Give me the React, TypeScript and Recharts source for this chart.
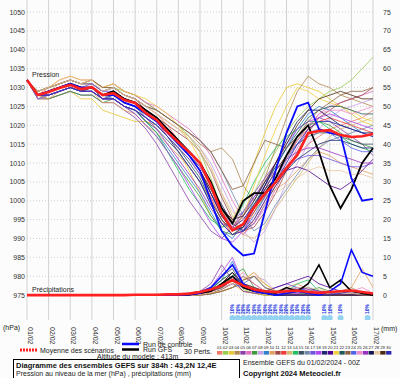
import React from "react";
import { ComposedChart, Line, Scatter, XAxis, YAxis, CartesianGrid } from "recharts";

const HOURS = [0,12,24,36,48,60,72,84,96,108,120,132,144,156,168,180,192,204,216,228,240,252,264,276,288,300,312,324,336,348,360,372,384];
const DAY_TICKS = [0,24,48,72,96,120,144,168,192,216,240,264,288,312,336,360,384];
const DAY_LABELS = ["01/02","02/02","03/02","04/02","05/02","06/02","07/02","08/02","09/02","10/02","11/02","12/02","13/02","14/02","15/02","16/02","17/02"];
const P_TICKS = [975,980,985,990,995,1000,1005,1010,1015,1020,1025,1030,1035,1040,1045,1050];
const MM_TICKS = [0,5,10,15,20,25,30,35,40,45,50,55,60,65,70,75];

const MEAN_P = [1032,1028,1028.8,1029.9,1030.7,1029.6,1030.1,1028,1028.5,1026.7,1025.9,1023.2,1021.4,1018.2,1015.5,1012.9,1010,1004.1,996.7,992.2,993.8,998.3,1001.8,1004.9,1008.7,1012.1,1017.9,1018.5,1018.7,1017.4,1016.9,1017.1,1017.7];
const CTRL_P = [1032,1028,1029,1030,1031,1030,1030,1028,1028,1026,1025,1023,1021,1018,1015,1012,1008,1000,992,988,985.5,986,997,1008,1018,1025,1026,1019,1018,1017.5,1006,1000,1000.5];
const GFS_P = [1032,1028,1029,1030,1031,1030,1030,1028,1029,1027,1026,1024,1022,1019,1016,1013,1010,1005,998,994,1000,1002,1002,1006,1012,1017,1020,1013,1004,998,1003,1010,1014];

const P01 = [1032,1028,1030,1031,1032,1031,1031,1029,1030,1028,1027,1025,1023,1020,1016,1012,1008,1003,997,993,991,995,1000,1004,1008,1012,1015,1017,1019,1020,1021,1022,1024];
const P02 = [1032,1029,1030,1031,1032,1031,1032,1030,1030,1029,1028,1026,1024,1022,1020,1017,1013,1006,998,992,996,1002,1008,1013,1018,1022,1025,1027,1029,1030,1032,1035,1038];
const P03 = [1032,1027,1027,1028,1029,1027,1027,1024,1023,1022,1021,1021,1020,1017,1013,1008,1002,996,993,995,1001,1010,1018,1025,1030,1031,1030,1029,1027,1025,1023,1021,1020];
const P04 = [1032,1029,1030,1031,1032,1031,1032,1030,1031,1029,1028,1026,1024,1022,1020,1018,1015,1013,1014,1011,1004,1000,1006,1014,1022,1029,1033,1031,1030,1028,1027,1026,1025];
const P05 = [1032,1027,1027,1028,1029,1028,1028,1026,1026,1024,1022,1019,1015,1010,1005,1000,996,992,990,993,997,1002,1006,1010,1014,1017,1020,1022,1021,1019,1017,1015,1012];
const P06 = [1032,1029,1030,1032,1033,1032,1032,1030,1031,1029,1028,1026,1025,1023,1021,1019,1016,1012,1006,1000,995,994,998,1003,1009,1014,1019,1023,1025,1026,1027,1028,1029];
const P07 = [1032,1028,1027,1028,1029,1028,1028,1026,1027,1025,1023,1020,1017,1013,1009,1005,1001,996,992,991,993,997,1001,1006,1011,1016,1020,1021,1020,1018,1016,1015,1014];
const P08 = [1032,1029,1030,1031,1032,1031,1031,1029,1030,1028,1027,1025,1023,1021,1019,1017,1014,1010,1004,998,992,989,992,998,1005,1010,1015,1019,1022,1024,1025,1026,1027];
const P09 = [1032,1028,1028,1029,1030,1029,1030,1028,1027,1025,1024,1021,1018,1014,1010,1006,1002,997,992,990,994,1000,1005,1009,1014,1019,1023,1025,1024,1022,1020,1018,1017];
const P10 = [1032,1028,1027,1029,1030,1029,1029,1026,1026,1024,1023,1020,1018,1015,1012,1009,1005,1000,995,992,994,998,1001,1003,1005,1008,1011,1013,1012,1010,1009,1008,1007];
const P11 = [1032,1029,1030,1031,1032,1031,1031,1029,1030,1028,1027,1024,1022,1020,1018,1016,1013,1008,1001,995,992,993,997,1002,1008,1013,1018,1022,1024,1026,1027,1028,1030];
const P12 = [1032,1028,1029,1030,1031,1029,1030,1028,1028,1026,1025,1023,1021,1017,1014,1011,1007,1001,995,991,992,997,1003,1008,1012,1016,1019,1021,1022,1021,1020,1019,1018];
const P13 = [1032,1028,1029,1031,1032,1031,1031,1029,1030,1028,1027,1025,1023,1021,1019,1017,1014,1009,1002,996,991,990,993,998,1002,1006,1010,1014,1017,1019,1020,1021,1022];
const P14 = [1032,1027,1028,1029,1030,1029,1029,1027,1027,1025,1024,1021,1018,1013,1008,1003,999,995,993,994,999,1005,1010,1014,1017,1019,1021,1021,1019,1017,1015,1014,1013];
const P15 = [1032,1028,1028,1029,1030,1029,1029,1027,1027,1025,1024,1021,1019,1016,1013,1009,1005,999,994,991,993,998,1003,1008,1012,1015,1017,1018,1018,1017,1016,1015,1015];
const P16 = [1032,1029,1030,1031,1032,1031,1031,1029,1030,1028,1027,1025,1024,1022,1020,1018,1016,1013,1008,1002,996,992,994,999,1003,1007,1011,1014,1016,1017,1018,1019,1020];
const P17 = [1032,1028,1029,1030,1031,1030,1031,1029,1029,1027,1026,1024,1022,1019,1015,1012,1009,1004,998,995,997,1001,1004,1007,1009,1011,1012,1012,1011,1010,1009,1009,1010];
const P18 = [1032,1027,1028,1029,1030,1029,1029,1027,1027,1025,1023,1020,1017,1013,1009,1004,999,994,990,989,992,998,1004,1010,1015,1019,1021,1022,1023,1022,1021,1020,1019];
const P19 = [1032,1028,1028,1029,1030,1029,1030,1027,1028,1026,1025,1023,1021,1018,1015,1012,1009,1004,999,994,992,994,999,1004,1008,1011,1013,1015,1016,1016,1015,1014,1014];
const P20 = [1032,1028,1029,1030,1031,1030,1030,1028,1029,1027,1026,1024,1022,1019,1016,1012,1008,1002,996,993,995,999,1003,1006,1008,1009,1008,1006,1004,1003,1005,1008,1011];
const P21 = [1032,1029,1030,1032,1033,1032,1032,1030,1031,1029,1028,1027,1025,1023,1020,1016,1011,1004,997,993,996,1004,1012,1019,1025,1030,1029,1027,1026,1025,1024,1022,1021];
const P22 = [1032,1028,1029,1030,1031,1030,1030,1028,1028,1026,1025,1022,1020,1017,1014,1010,1006,1000,995,992,994,999,1004,1009,1014,1018,1022,1024,1025,1025,1024,1023,1023];
const P23 = [1032,1029,1030,1031,1032,1031,1032,1030,1030,1028,1027,1025,1024,1022,1020,1018,1016,1013,1008,1003,1004,1010,1016,1015,1014,1017,1021,1024,1026,1028,1029,1029,1030];
const P24 = [1032,1028,1028,1029,1030,1029,1029,1027,1027,1025,1024,1022,1020,1017,1014,1011,1007,1002,997,993,992,996,1001,1006,1011,1015,1018,1019,1018,1016,1014,1013,1013];
const P25 = [1032,1028,1029,1030,1031,1030,1030,1028,1029,1027,1026,1024,1022,1019,1016,1013,1009,1004,998,993,991,994,999,1005,1011,1016,1020,1023,1024,1024,1023,1024,1025];
const P26 = [1032,1028,1028,1029,1030,1029,1029,1027,1027,1025,1024,1022,1019,1015,1011,1007,1003,998,994,993,996,1001,1005,1008,1011,1013,1014,1014,1013,1012,1011,1010,1010];
const P27 = [1032,1028,1029,1030,1031,1030,1030,1028,1029,1027,1026,1024,1021,1018,1015,1012,1008,1002,996,992,993,998,1004,1010,1016,1021,1024,1024,1022,1020,1019,1018,1018];
const P28 = [1032,1029,1030,1031,1032,1031,1032,1029,1030,1028,1027,1025,1023,1021,1019,1016,1013,1008,1002,997,995,996,999,1002,1004,1006,1008,1009,1008,1008,1007,1007,1006];
const P29 = [1032,1028,1029,1030,1031,1030,1030,1028,1029,1027,1026,1023,1021,1018,1015,1012,1008,1003,998,995,996,1000,1005,1010,1015,1020,1024,1027,1028,1029,1028,1027,1027];
const P30 = [1032,1028,1028,1029,1030,1029,1029,1027,1027,1025,1024,1022,1020,1017,1013,1009,1005,999,994,991,992,995,1000,1005,1010,1015,1019,1021,1021,1020,1019,1018,1017];

const MEAN_R = [0,0,0,0,0,0,0,0,0,0,0.1,0.1,0.1,0.2,0.2,0.4,0.8,1.5,2.5,4,2.5,1.5,1,0.8,1,1.2,0.8,0.6,0.8,1,1.2,0.8,0.4];
const CTRL_R = [0,0,0,0,0,0,0,0,0,0,0,0,0,0,0,0.2,0.5,2,5,8,3,1,0.5,0,0.5,1,0.5,0,1,3,12,6,5];
const GFS_R = [0,0,0,0,0,0,0,0,0,0,0,0,0,0,0,0.2,0.5,1,3,5,2,1,1,0.5,2,1,3,8,2,4,1,0.5,0];

const R01 = [0,0,0,0,0,0,0,0,0,0,0,0,0,0,0,0.2,0.5,1,3,5,2,1,0.5,0,0,0.5,1,0.5,0,0,0,0,0];
const R02 = [0,0,0,0,0,0,0,0,0,0,0,0,0,0,0,0,0.3,1.5,4,6,1.5,0.5,0,0,0,0,0.5,0,0,0,0.5,0,0];
const R03 = [0,0,0,0,0,0,0,0,0,0,0,0,0,0.2,0.3,0.5,1,2,5,3,1,0.5,0,0,0,0,0,0,0,0,0,0,0];
const R04 = [0,0,0,0,0,0,0,0,0,0,0,0,0,0,0,0,0.5,1,3,4,1,0.5,0,0,0,0,0,0,0,1,2,0.5,0];
const R05 = [0,0,0,0,0,0,0,0,0,0,0,0,0,0,0.2,0.5,1,3,8,4,1,0.5,0.5,1,1.5,0.5,0,0,0,0,0,0,0];
const R06 = [0,0,0,0,0,0,0,0,0,0,0,0,0,0,0,0,0,0.5,1,2,4,6,3,1,0.5,0,0,0,0,0,0,0,0];
const R07 = [0,0,0,0,0,0,0,0,0,0,0,0,0,0,0,0,0.5,1,2,5,7,2,1,0.5,0,0,1,2,1,0.5,0,0,0];
const R08 = [0,0,0,0,0,0,0,0,0,0,0,0,0,0,0,0,0,0.3,1,2,3,5,4,1,0.5,0,0,0,0,0,0,0,0];
const R09 = [0,0,0,0,0,0,0,0,0,0,0,0,0,0,0,0.3,1,2,4,9,3,1,0.5,0.5,1,2,1,0,0,0,0,0,0];
const R10 = [0,0,0,0,0,0,0,0,0,0,0,0,0,0,0,0,0.5,1,3,5,2,1,0.5,1,2,3,1.5,0.5,0,0,2,7,2];
const R11 = [0,0,0,0,0,0,0,0,0,0,0,0,0,0,0,0,0,0.5,1.5,3,5,3,1,0.5,0,0,0,0,0,0,0,0,0];
const R12 = [0,0,0,0,0,0,0,0,0,0,0,0,0,0,0,0,0.5,1,3,6,2,1,0.5,0,0.5,1,0.5,0,0,0,0,0,0];
const R13 = [0,0,0,0,0,0,0,0,0,0,0,0,0,0,0,0,0,0.5,1,2,4,5,3,1,0,0,0,0,0,0,0,0,0];
const R14 = [0,0,0,0,0,0,0,0,0,0,0,0,0,0,0,0,0.5,1.5,3,4,2,1,0.5,0.5,1,3,4,1,0.5,0,0,0,0];
const R15 = [0,0,0,0,0,0,0,0,0,0,0,0,0,0,0,0.2,0.8,2,5,7,2,1,0.5,0,0,1,0.5,0,0,0,0,0,0];
const R16 = [0,0,0,0,0,0,0,0,0,0,0,0,0,0,0,0,0,0.3,1,2,3,5,2,1,0.5,0,0,0,0,0,0,0,0];
const R17 = [0,0,0,0,0,0,0,0,0,0,0,0,0,0,0,0,0.5,1,2,3,2,1,1,2,3,2,1,0.5,1,0,0,0,0];
const R18 = [0,0,0,0,0,0,0,0,0,0,0,0,0,0,0,0.5,1,2,6,10,3,1,0.5,0,0,0.5,1,0,0,0,0,0,0];
const R19 = [0,0,0,0,0,0,0,0,0,0,0,0,0,0,0,0,0.5,1,2,4,3,2,1,0.5,1,1.5,2,1,1,0.5,0,0,0];
const R20 = [0,0,0,0,0,0,0,0,0,0,0,0,0,0,0,0,0.5,1,3,5,2,1,1,2,3,4,5,3,2,1,0.5,0,0];
const R21 = [0,0,0,0,0,0,0,0,0,0,0,0,0,0,0,0,0,0.5,1,2,4,6,3,1,0,0,0,0,0,0,0,0,0];
const R22 = [0,0,0,0,0,0,0,0,0,0,0,0,0,0,0,0.2,0.5,1.5,4,6,2,1,0.5,0,0,0,0.5,0,0,0,0,0,0];
const R23 = [0,0,0,0,0,0,0,0,0,0,0,0,0,0,0,0,0,0.3,1,2,4,5,2,1,0.5,0,0,0,0,0,0,0,0];
const R24 = [0,0,0,0,0,0,0,0,0,0,0,0,0,0,0,0,0.5,1,3,5,3,1,0.5,0,0.5,1,0.5,0,1,0.5,0,0,0];
const R25 = [0,0,0,0,0,0,0,0,0,0,0,0,0,0,0,0,0.2,0.8,2,4,6,3,1,0.5,0,0,0,0,0,0,1,2,0.5];
const R26 = [0,0,0,0,0,0,0,0,0,0,0,0,0,0,0,0,0.5,1,2.5,4,3,2,1,1,1.5,2,1.5,1,0.5,0,0,0,0];
const R27 = [0,0,0,0,0,0,0,0,0,0,0,0,0,0,0,0,0.5,1,3,6,3,1,0.5,0,0,0,0,0,0,0,0,0,0];
const R28 = [0,0,0,0,0,0,0,0,0,0,0,0,0,0,0,0,0.3,1,2,3,3,2,1,1,1.5,2,2,1.5,1,0.5,0.5,0,0];
const R29 = [0,0,0,0,0,0,0,0,0,0,0,0,0,0,0,0,0.5,1,2,4,3,2,1,0,0,0,0,0,0,0,0,0,0];
const R30 = [0,0,0,0,0,0,0,0,0,0,0,0,0,0,0,0,0.5,1,3,5,3,1,0.5,0,0,0,0,0,0,0.5,1,0.5,0];

const MEMBER_COLORS = ["#f07a6a","#98cc50","#e8c830","#b08850","#8a3fa8","#e070c0","#3c9a3c","#c8a0e8","#2f7fd0","#e0a060","#a04848","#f03a3a","#d4b870","#20c060","#3a5060","#7088a8","#7050e0","#b040f0","#202870","#500090","#f0d040","#1e5a5a","#8a6040","#5060e8","#f08cc8","#9a30c0","#141450","#e8c8a0","#4a2a10","#2a2ab0"];
const MEMBER_LABELS = ["01","02","03","04","05","06","07","08","09","10","11","12","13","14","15","16","17","18","19","20","21","22","23","24","25","26","27","28","29","30"];

const ICON_HOURS = [228,234,240,246,252,258,264,270,276,282,288,294,300,306,312,330,336,348,378];
const ICON_PROB = [10,20,20,30,20,20,30,20,20,30,20,20,10,20,20,10,10,10,10];
const ICON_LEVEL = -6.1;

const MEMBERS_P = [P01,P02,P03,P04,P05,P06,P07,P08,P09,P10,P11,P12,P13,P14,P15,P16,P17,P18,P19,P20,P21,P22,P23,P24,P25,P26,P27,P28,P29,P30];
const MEMBERS_R = [R01,R02,R03,R04,R05,R06,R07,R08,R09,R10,R11,R12,R13,R14,R15,R16,R17,R18,R19,R20,R21,R22,R23,R24,R25,R26,R27,R28,R29,R30];

const rows = HOURS.map((h, i) => {
  const r: any = { h, mean: MEAN_P[i], ctrl: CTRL_P[i], gfs: GFS_P[i], rMean: MEAN_R[i], rCtrl: CTRL_R[i], rGfs: GFS_R[i] };
  MEMBERS_P.forEach((arr, k) => { r["p" + k] = arr[i]; });
  MEMBERS_R.forEach((arr, k) => { r["r" + k] = arr[i]; });
  return r;
});

const iconData = ICON_HOURS.map((h, i) => ({ h, v: ICON_LEVEL, prob: ICON_PROB[i] }));

const FONT = "'Liberation Sans', Arial, sans-serif";

const XTick = (props: any) => {
  const { x, y, payload } = props;
  const idx = DAY_TICKS.indexOf(payload.value);
  return (
    <text x={0} y={0} transform={`translate(${x + 1},${y + 5}) rotate(90)`} fontSize={7} fill="#333" fontFamily={FONT}>
      {DAY_LABELS[idx]}
    </text>
  );
};

const IconShape = (props: any) => {
  const { cx, cy, payload } = props;
  return (
    <g>
      <circle cx={cx} cy={cy} r={3} fill="#94d2f2" />
      <text x={0} y={0} transform={`translate(${cx + 1.8},${cy - 4}) rotate(-90)`} fontSize={5} fontWeight="bold" fill="#2233dd" fontFamily={FONT}>
        {payload.prob + "%"}
      </text>
    </g>
  );
};

export default function App() {
  const swStart = 217;
  const swStep = 5.83;
  return (
    <div style={{ position: "absolute", left: 0, top: 0, width: 400, height: 378, background: "#fcfcfc", overflow: "hidden" }}>
      <ComposedChart width={400} height={378} data={rows} margin={{ top: 0, right: 0, bottom: 0, left: 0 }}>
        <CartesianGrid yAxisId="p" horizontal={false} stroke="#d2d2d2" />
        <CartesianGrid yAxisId="p" vertical={false} stroke="#cfcfcf" strokeDasharray="1 2" horizontalValues={P_TICKS} />
        <XAxis dataKey="h" type="number" domain={[0, 384]} ticks={DAY_TICKS} tick={<XTick />} axisLine={false} tickLine={false} tickSize={0} height={58} interval={0} />
        <YAxis yAxisId="p" domain={[968.4, 1053.2]} ticks={P_TICKS} allowDataOverflow width={27} axisLine={false} tickLine={false} tickSize={0} tickMargin={2} tick={{ fontSize: 7, fill: "#333", fontFamily: FONT }} interval={0} />
        <YAxis yAxisId="r" orientation="right" domain={[-6.6, 78.2]} ticks={MM_TICKS} allowDataOverflow width={27} axisLine={false} tickLine={false} tickSize={0} tickMargin={10} tick={{ fontSize: 7, fill: "#333", fontFamily: FONT, textAnchor: "start" }} interval={0} />
        {MEMBERS_R.map((_, k) => (
          <Line key={"r" + k} yAxisId="r" type="linear" dataKey={"r" + k} stroke={MEMBER_COLORS[k]} strokeWidth={0.8} dot={false} isAnimationActive={false} />
        ))}
        <Line yAxisId="r" type="linear" dataKey="rGfs" stroke="#000" strokeWidth={1.6} dot={false} isAnimationActive={false} />
        <Line yAxisId="r" type="linear" dataKey="rCtrl" stroke="#0a0aff" strokeWidth={1.6} dot={false} isAnimationActive={false} />
        {MEMBERS_P.map((_, k) => (
          <Line key={"p" + k} yAxisId="p" type="linear" dataKey={"p" + k} stroke={MEMBER_COLORS[k]} strokeWidth={0.8} dot={false} isAnimationActive={false} />
        ))}
        <Line yAxisId="p" type="linear" dataKey="gfs" stroke="#000" strokeWidth={1.8} dot={false} isAnimationActive={false} />
        <Line yAxisId="p" type="linear" dataKey="ctrl" stroke="#0a0aff" strokeWidth={1.8} dot={false} isAnimationActive={false} />
        <Line yAxisId="p" type="linear" dataKey="mean" stroke="#ff2020" strokeWidth={2.6} dot={false} isAnimationActive={false} />
        <Line yAxisId="r" type="linear" dataKey="rMean" stroke="#ff2020" strokeWidth={2.6} dot={false} isAnimationActive={false} />
        <Scatter yAxisId="r" data={iconData} dataKey="v" shape={<IconShape />} isAnimationActive={false} />
      </ComposedChart>
      <svg width={400} height={378} style={{ position: "absolute", left: 0, top: 0, pointerEvents: "none" }} fontFamily={FONT}>
        <text x={32} y={77} fontSize={7} fill="#222">Pression</text>
        <text x={32} y={292} fontSize={7} fill="#222">Précipitations</text>
        <text x={3} y={330} fontSize={7} fill="#222">(hPa)</text>
        <text x={381} y={331} fontSize={7} fill="#222">(mm)</text>
        <line x1={20} x2={37} y1={350} y2={350} stroke="#ff2020" strokeWidth={3} strokeDasharray="2 1" />
        <text x={40} y={352.5} fontSize={7} fill="#222">Moyenne des scénarios</text>
        <line x1={122} x2={139} y1={344} y2={344} stroke="#0a0aff" strokeWidth={2.5} />
        <text x={143} y={346.5} fontSize={7} fill="#222">Run de controle</text>
        <line x1={122} x2={139} y1={349.5} y2={349.5} stroke="#000" strokeWidth={2.5} />
        <text x={143} y={352} fontSize={7} fill="#222">Run GFS</text>
        <text x={97} y={358.5} fontSize={7} fill="#222">Altitude du modele : 413m</text>
        <text x={184} y={354} fontSize={7} fill="#222">30 Perts.</text>
        {MEMBER_LABELS.map((lab, i) => (
          <g key={lab}>
            <text x={swStart + i * swStep} y={348.5} fontSize={4.3} fill="#222">{lab}</text>
            <rect x={swStart + i * swStep} y={351} width={5.3} height={3.6} fill={MEMBER_COLORS[i]} />
          </g>
        ))}
        <rect x={13.5} y={359.5} width={226} height={25} fill="#fff" stroke="#000" strokeWidth={1} />
        <text x={16} y={367.5} fontSize={7.5} fontWeight="bold" fill="#111">Diagramme des ensembles GEFS sur 384h : 43,2N 12,4E</text>
        <text x={16} y={375.5} fontSize={7} fill="#222">Pression au niveau de la mer (hPa) , précipitations (mm)</text>
        <text x={243} y={364.5} fontSize={7} fill="#222">Ensemble GEFS du 01/02/2024 - 00Z</text>
        <text x={243} y={375.5} fontSize={7.5} fontWeight="bold" fill="#111">Copyright 2024 Meteociel.fr</text>
      </svg>
    </div>
  );
}
